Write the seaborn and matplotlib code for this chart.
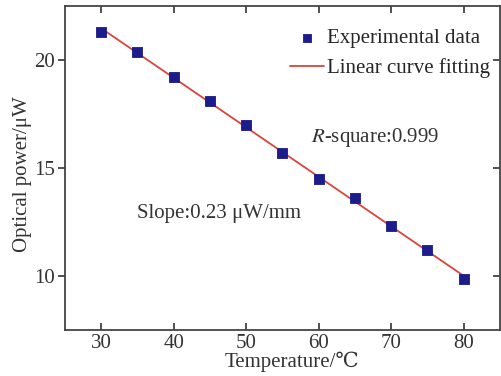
#!/usr/bin/env python3

import numpy as np
import pandas
import seaborn as sns
import matplotlib.pyplot as plt

# values
temperature = [30, 35, 40, 45, 50, 55, 60, 65, 70, 75, 80]
power = [21.27, 20.38, 19.18, 18.09, 16.97, 15.70, 14.48, 13.60, 12.33, 11.21, 9.85]
x_ticks = [30, 40, 50, 60, 70, 80]
y_ticks = [10, 15, 20]

sns.set_style("ticks")
plt.rcParams["font.family"] = ["Liberation Serif", "DejaVu Serif", "DejaVu Sans"]
plt.rcParams["mathtext.fontset"] = "stix"

FS = 15

df = pandas.DataFrame({"T": temperature, "P": power})
slope, icpt = np.polyfit(df["T"], df["P"], 1)
df["fit"] = slope * df["T"] + icpt

fig = plt.figure(figsize=(5.02, 3.76), dpi=100)
ax = fig.add_axes([0.1295, 0.122, 0.866, 0.863])

sns.lineplot(data=df, x="T", y="fit", ax=ax, color="#d9453c", linewidth=1.3,
             label="Linear curve fitting", zorder=2)
sns.scatterplot(data=df, x="T", y="P", ax=ax, marker="s", s=60, color="#1c1c8a",
                edgecolor="#1c1c8a", label="Experimental data", zorder=3)

ax.set_xlim(25, 85)
ax.set_ylim(7.5, 22.5)
ax.set_xticks(x_ticks)
ax.set_yticks(y_ticks)
ax.set_xlabel("Temperature/℃", fontsize=FS, color="#333333")
ax.set_ylabel("Optical power/μW", fontsize=FS, color="#333333")
ax.xaxis.set_label_coords(0.522, -0.066)
ax.yaxis.set_label_coords(-0.076, 0.48)

for s in ax.spines.values():
    s.set_color("#444444")
    s.set_linewidth(1.3)
ax.tick_params(axis="both", labelsize=FS, colors="#333333", width=1.2, length=5)
ax.tick_params(axis="x", direction="in", top=True, pad=3)
ax.tick_params(axis="y", direction="out", right=True, pad=2)
# right ticks point inward
for t in ax.yaxis.get_ticklines()[1::2]:
    t.set_marker(0)

h, l = ax.get_legend_handles_labels()
ax.legend(h[::-1], l[::-1], loc="upper right", frameon=False, fontsize=FS,
          handlelength=1.6, handletextpad=0.15, borderaxespad=0.7,
          labelspacing=0.5, bbox_to_anchor=(1.03, 1.0), markerscale=0.8)

ax.text(59.0, 16.4, "$\\it{R}$-square:0.999", fontsize=FS, color="#333333", va="center")
ax.text(35.0, 12.9, "Slope:0.23 μW/mm", fontsize=FS, color="#333333", va="center")

plt.savefig("out.png", dpi=100)
plt.close()
